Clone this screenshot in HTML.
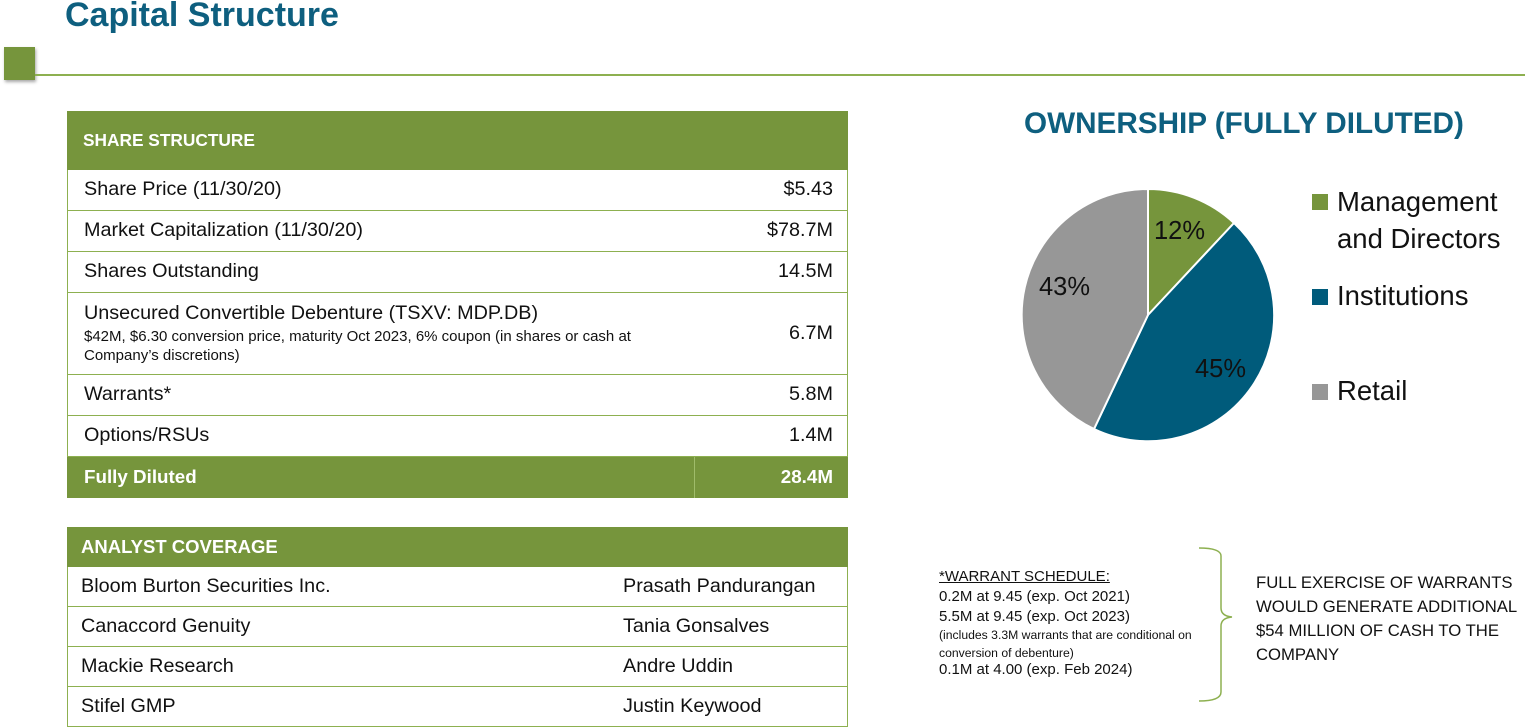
<!DOCTYPE html>
<html><head><meta charset="utf-8"><style>
body{margin:0;width:1525px;height:722px;background:#fff;position:relative;overflow:hidden;font-family:"Liberation Sans",sans-serif;color:#111}
.a{position:absolute;white-space:nowrap}
.g{background:#76953c}
.row{position:absolute;left:67px;width:781px;border:1px solid #8db050;border-top:none;box-sizing:border-box;background:#fff}
.t{font-size:19.8px}
.w{color:#fff;font-weight:bold}
</style></head><body>
<div class="a" style="left:65px;top:-4px;font-size:34px;font-weight:bold;color:#0e5f7f">Capital Structure</div>
<div class="a" style="left:4px;top:47px;width:31px;height:33px;background:#76953c;box-shadow:1px 2px 3px rgba(0,0,0,.35)"></div>
<div class="a" style="left:35px;top:74px;width:1490px;height:2px;background:#8db050"></div>

<div class="a g" style="left:67px;top:111px;width:781px;height:59px"></div>
<div class="a w" style="left:83px;top:130px;font-size:17.3px">SHARE STRUCTURE</div>
<div class="row" style="top:170px;height:41px"></div>
<div class="a t" style="left:84px;top:178px">Share Price (11/30/20)</div><div class="a t" style="right:692px;top:178px">$5.43</div>
<div class="row" style="top:211px;height:41px"></div>
<div class="a t" style="left:84px;top:219px">Market Capitalization (11/30/20)</div><div class="a t" style="right:692px;top:219px">$78.7M</div>
<div class="row" style="top:252px;height:41px"></div>
<div class="a t" style="left:84px;top:260px">Shares Outstanding</div><div class="a t" style="right:692px;top:260px">14.5M</div>
<div class="row" style="top:293px;height:82px"></div>
<div class="a t" style="left:84px;top:302px">Unsecured Convertible Debenture (TSXV: MDP.DB)</div>
<div class="a" style="left:84px;top:328px;font-size:15px">$42M, $6.30 conversion price, maturity Oct 2023, 6% coupon (in shares or cash at</div>
<div class="a" style="left:84px;top:347px;font-size:15px">Company’s discretions)</div>
<div class="a t" style="right:692px;top:322px">6.7M</div>
<div class="row" style="top:375px;height:41px"></div>
<div class="a t" style="left:84px;top:383px">Warrants*</div><div class="a t" style="right:692px;top:383px">5.8M</div>
<div class="row" style="top:416px;height:41px"></div>
<div class="a t" style="left:84px;top:424px">Options/RSUs</div><div class="a t" style="right:692px;top:424px">1.4M</div>
<div class="a g" style="left:67px;top:457px;width:781px;height:41px"></div>
<div class="a" style="left:694px;top:457px;width:1px;height:41px;background:#9fbc6a"></div>
<div class="a w" style="left:84px;top:466px;font-size:18.8px">Fully Diluted</div><div class="a w" style="right:692px;top:466px;font-size:18.8px">28.4M</div>

<div class="a g" style="left:67px;top:527px;width:781px;height:40px"></div>
<div class="a w" style="left:81px;top:536px;font-size:18.5px">ANALYST COVERAGE</div>
<div class="row" style="top:567px;height:40px"></div>
<div class="a t" style="left:81px;top:575px">Bloom Burton Securities Inc.</div><div class="a t" style="left:623px;top:575px">Prasath Pandurangan</div>
<div class="row" style="top:607px;height:40px"></div>
<div class="a t" style="left:81px;top:615px">Canaccord Genuity</div><div class="a t" style="left:623px;top:615px">Tania Gonsalves</div>
<div class="row" style="top:647px;height:40px"></div>
<div class="a t" style="left:81px;top:655px">Mackie Research</div><div class="a t" style="left:623px;top:655px">Andre Uddin</div>
<div class="row" style="top:687px;height:40px"></div>
<div class="a t" style="left:81px;top:695px">Stifel GMP</div><div class="a t" style="left:623px;top:695px">Justin Keywood</div>

<div class="a" style="left:1024px;top:107px;font-size:29.7px;font-weight:bold;color:#0e5f7f">OWNERSHIP (FULLY DILUTED)</div>
<svg class="a" style="left:0;top:0" width="1525" height="722">
<g stroke="#fff" stroke-width="2">
<path d="M1148,315 L1148,189 A126,126 0 0 1 1234,223 Z" fill="#76953c"/>
<path d="M1148,315 L1234,223 A126,126 0 0 1 1094,429 Z" fill="#005b7b"/>
<path d="M1148,315 L1094,429 A126,126 0 0 1 1148,189 Z" fill="#979797"/>
</g>
<text x="1154" y="239" font-size="25.5" font-family="Liberation Sans" fill="#111">12%</text>
<text x="1195" y="377" font-size="25.5" font-family="Liberation Sans" fill="#111">45%</text>
<text x="1039" y="295" font-size="25.5" font-family="Liberation Sans" fill="#111">43%</text>
<path d="M1199,548 Q1221,548 1221,556 L1221,608 Q1221,616 1232,617 Q1221,618 1221,626 L1221,692 Q1221,701 1199,701" fill="none" stroke="#8db050" stroke-width="1.5"/>
</svg>
<div class="a" style="left:1312px;top:194px;width:16px;height:16px;background:#76953c"></div>
<div class="a" style="left:1337px;top:183px;font-size:27.5px;line-height:37px;color:#111">Management<br>and Directors</div>
<div class="a" style="left:1312px;top:289px;width:16px;height:16px;background:#005b7b"></div>
<div class="a" style="left:1337px;top:280px;font-size:27.5px">Institutions</div>
<div class="a" style="left:1312px;top:384px;width:16px;height:16px;background:#979797"></div>
<div class="a" style="left:1337px;top:375px;font-size:27.5px">Retail</div>

<div class="a" style="left:939px;top:567px;font-size:15px;line-height:20px">
<span style="text-decoration:underline">*WARRANT SCHEDULE:</span><br>0.2M at 9.45 (exp. Oct 2021)<br>5.5M at 9.45 (exp. Oct 2023)</div>
<div class="a" style="left:939px;top:626px;font-size:12.2px;line-height:18px">(includes 3.3M warrants that are conditional on<br>conversion of debenture)</div>
<div class="a" style="left:939px;top:661px;font-size:15px">0.1M at 4.00 (exp. Feb 2024)</div>
<div class="a" style="left:1256px;top:571px;font-size:16.7px;line-height:24px">FULL EXERCISE OF WARRANTS<br>WOULD GENERATE ADDITIONAL<br>$54 MILLION OF CASH TO THE<br>COMPANY</div>
</body></html>
